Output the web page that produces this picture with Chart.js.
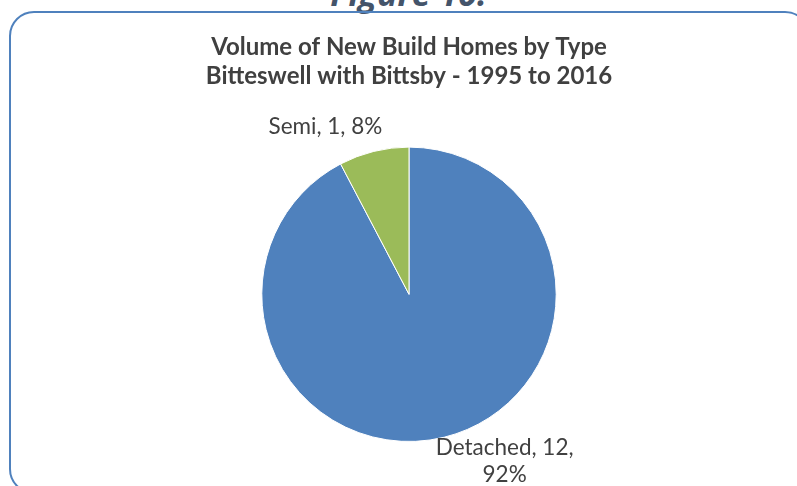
<!DOCTYPE html>
<html>
<head>
<meta charset="utf-8">
<script src="https://cdn.jsdelivr.net/npm/chart.js@4/dist/chart.umd.min.js"></script>
<style>
  html, body { margin: 0; padding: 0; background: #ffffff; overflow: hidden; }
  #wrap { position: relative; width: 797px; height: 486px; overflow: hidden; }
  #frame {
    position: absolute; left: 9px; top: 11px; width: 801px; height: 483px;
    border: 2px solid #4f81bd; border-radius: 25px; box-sizing: border-box;
  }
  #fig {
    position: absolute; left: 0; width: 817px; top: -24px; text-align: center;
    font: italic bold 34px "Open Sans", sans-serif; color: #44546a; line-height: 34px;
  }
  #c { position: absolute; left: 0; top: 0; }
</style>
</head>
<body>
<div id="wrap">
  <div id="fig">Figure 10:</div>
  <div id="frame"></div>
  <canvas id="c" width="797" height="486"></canvas>
</div>
<script>
// Homes built by type
const categories = ['Detached', 'Semi'];
const homes = [12, 1];
const sliceColours = ['#4f81bd', '#9bbb59'];
const titleLines = ['Volume of New Build Homes by Type', 'Bitteswell with Bittsby - 1995 to 2016'];

const LABEL_FONT = '22.5px Lato';
const LABEL_LINE = 27;
const LABEL_WRAP = 160;

// "Category, value, percent%" labels placed just outside each slice
const outsideLabels = {
  id: 'outsideLabels',
  afterDatasetsDraw(chart) {
    const ctx = chart.ctx;
    const meta = chart.getDatasetMeta(0);
    const data = chart.data.datasets[0].data;
    const total = data.reduce((a, b) => a + b, 0);
    ctx.save();
    ctx.font = LABEL_FONT;
    ctx.fillStyle = '#404040';
    ctx.textAlign = 'center';
    ctx.textBaseline = 'alphabetic';
    meta.data.forEach((arc, i) => {
      const p = arc.getProps(['x', 'y', 'startAngle', 'endAngle', 'outerRadius'], true);
      const mid = (p.startAngle + p.endAngle) / 2;
      const cos = Math.cos(mid), sin = Math.sin(mid);
      const ax = p.x + cos * (p.outerRadius + 2);
      const ay = p.y + sin * (p.outerRadius + 2);
      const pct = Math.round(data[i] / total * 100);
      const words = `${chart.data.labels[i]}, ${data[i]}, ${pct}%`.split(' ');
      const lines = [];
      let cur = '';
      words.forEach(w => {
        const test = cur ? cur + ' ' + w : w;
        if (cur && ctx.measureText(test).width > LABEL_WRAP) { lines.push(cur); cur = w; }
        else cur = test;
      });
      lines.push(cur);
      const boxW = Math.max(...lines.map(l => ctx.measureText(l).width));
      const left = cos >= 0 ? ax - 9 : ax + 9 - boxW;
      const cx = left + boxW / 2;
      let firstBase;
      if (sin >= 0) firstBase = ay + 16;
      else firstBase = ay - 15 - (lines.length - 1) * LABEL_LINE;
      lines.forEach((l, k) => ctx.fillText(l, cx, firstBase + k * LABEL_LINE));
    });
    ctx.restore();
  }
};

new Chart(document.getElementById('c'), {
  type: 'pie',
  data: {
    labels: categories,
    datasets: [{
      data: homes,
      backgroundColor: sliceColours,
      borderColor: '#ffffff',
      borderWidth: 1
    }]
  },
  options: {
    responsive: false,
    animation: false,
    layout: { padding: { left: 21, right: 0, top: 0, bottom: 44 } },
    plugins: {
      legend: { display: false },
      tooltip: { enabled: false },
      title: {
        display: true,
        text: titleLines,
        color: '#404040',
        font: { family: 'Lato', size: 24, weight: 'bold' },
        lineHeight: 29 / 24,
        padding: { top: 33, bottom: 56 }
      }
    }
  },
  plugins: [outsideLabels]
});
</script>
</body>
</html>
